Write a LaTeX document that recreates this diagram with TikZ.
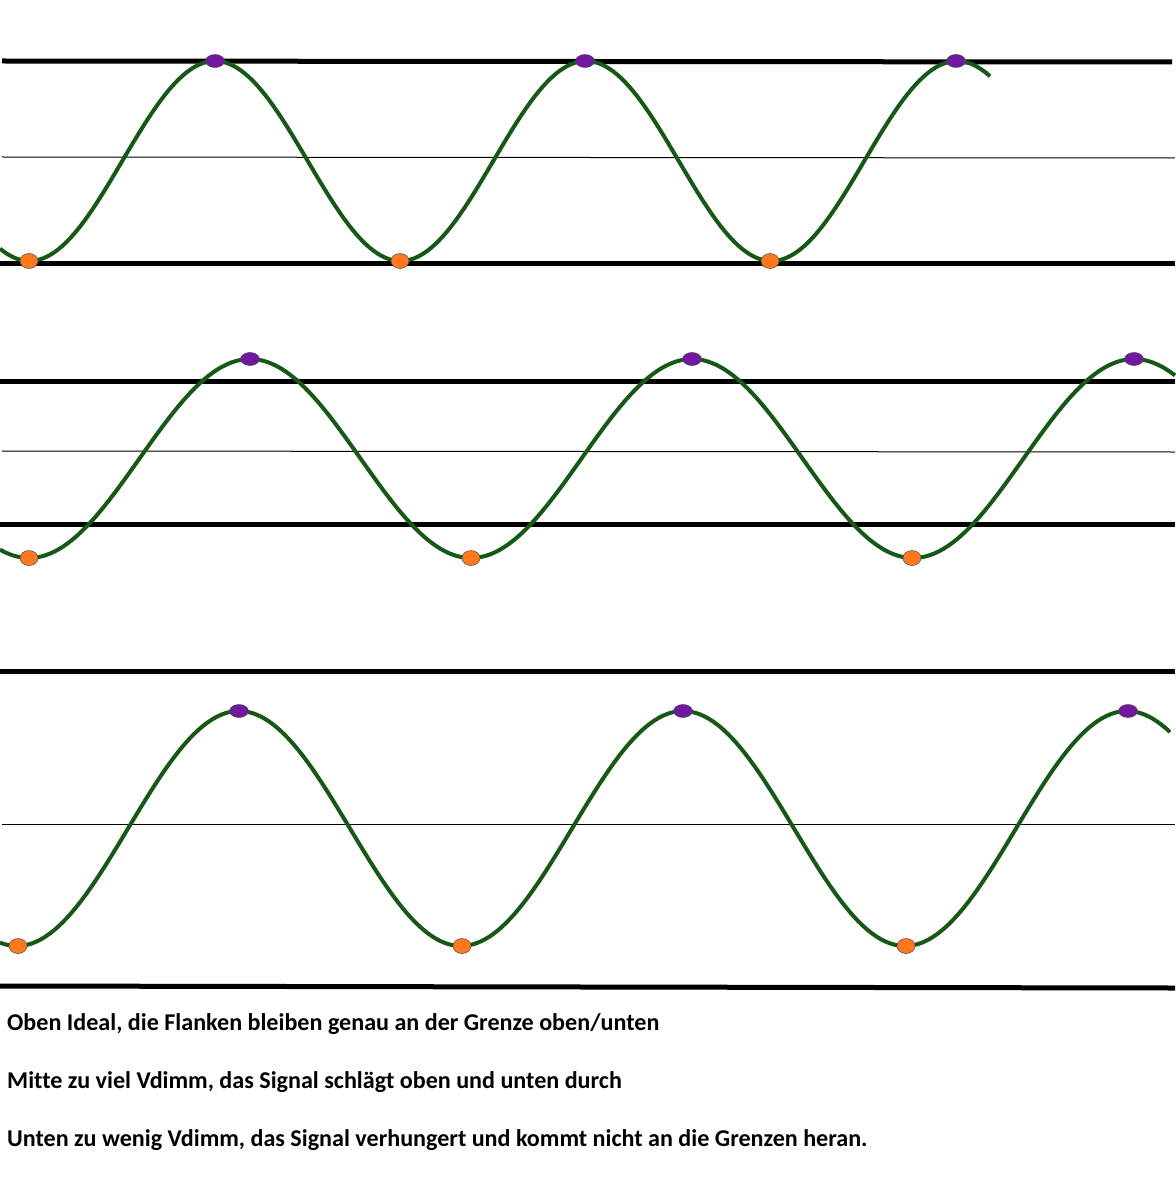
\documentclass[tikz,border=0pt]{standalone}
\usepackage{fontspec}
\setmainfont[Ligatures=NoCommon]{Carlito}
\usetikzlibrary{shapes.geometric}
\begin{document}
\begin{tikzpicture}[x=1pt,y=-1pt,
  thick line/.style={line width=5pt},
  thin line/.style={line width=1pt},
  wave/.style={line width=4pt, draw={rgb,255:red,22;green,88;blue,22}},
  topdot/.style={ellipse, minimum width=19pt, minimum height=13pt, inner sep=0pt, fill={rgb,255:red,112;green,24;blue,160}, draw=black!70, line width=0.5pt},
  botdot/.style={ellipse, minimum width=18pt, minimum height=15pt, inner sep=0pt, fill={rgb,255:red,255;green,120;blue,30}, draw=black!70, line width=0.5pt},
  caption/.style={anchor=base west, inner sep=0pt, font=\fontsize{24.1}{28}\selectfont\bfseries}]
\useasboundingbox[fill=white] (0,0) rectangle (1175,1190);
% ---------- panel 1 ----------
\draw[thick line] (2,61) -- (1172,62);
\draw[thin line] (2,157) -- (1175,158);
\draw[thick line] (0,263) -- (1175,263);
\draw[wave] plot[domain=0:990, samples=240] (\x, {161 - 100*cos((\x-215)/371*360)});
\foreach \i/\xx in {a/29,b/400,c/770} \node[botdot] (p1min\i) at (\xx,261) {};
\foreach \i/\xx in {a/215,b/585,c/956} \node[topdot] (p1max\i) at (\xx,61) {};
% ---------- panel 2 ----------
\draw[thick line] (0,381) -- (1175,381);
\draw[thin line] (2,451) -- (1175,452);
\draw[thick line] (0,524) -- (1175,524);
\draw[wave] plot[domain=0:1175, samples=260] (\x, {458.5 - 99.5*cos((\x-250)/442*360)});
\foreach \i/\xx in {a/29,b/471,c/912} \node[botdot] (p2min\i) at (\xx,558) {};
\foreach \i/\xx in {a/250,b/692,c/1134} \node[topdot] (p2max\i) at (\xx,359) {};
% ---------- panel 3 ----------
\draw[thick line] (0,671) -- (1175,671);
\draw[thin line] (2,824) -- (1175,824);
\draw[thick line] (0,986) -- (1175,988);
\draw[wave] plot[domain=0:1170, samples=260] (\x, {828.5 - 117.5*cos((\x-239)/444*360)});
\foreach \i/\xx in {a/18,b/462,c/906} \node[botdot] (p3min\i) at (\xx,946) {};
\foreach \i/\xx in {a/239,b/683,c/1128} \node[topdot] (p3max\i) at (\xx,711) {};
% ---------- captions ----------
\node[caption] (t1) at (7,1030) {Oben Ideal, die Flanken bleiben genau an der Grenze oben/unten};
\node[caption] (t2) at (7,1088) {Mitte zu viel Vdimm, das Signal schlägt oben und unten durch};
\node[caption] (t3) at (7,1146) {Unten zu wenig Vdimm, das Signal verhungert und kommt nicht an die Grenzen heran.};
\end{tikzpicture}
\end{document}
